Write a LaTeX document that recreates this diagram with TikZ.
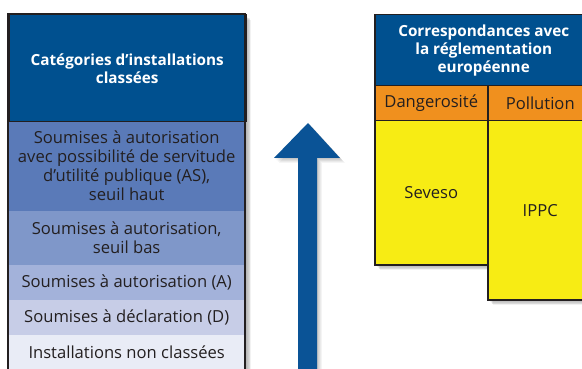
\documentclass[tikz,border=0pt]{standalone}
\usepackage{fontspec}
\setmainfont{Open Sans}
\usetikzlibrary{calc}
\definecolor{hdrblue}{HTML}{00508F}
\definecolor{arrblue}{HTML}{0A5396}
\definecolor{rowA}{HTML}{5A7AB8}
\definecolor{rowB}{HTML}{7F97C9}
\definecolor{rowC}{HTML}{A3B2DA}
\definecolor{rowD}{HTML}{C7CDE7}
\definecolor{rowE}{HTML}{E9ECF6}
\definecolor{orng}{HTML}{F0901E}
\definecolor{yel}{HTML}{F7EC14}
\definecolor{edge}{HTML}{231F20}
\definecolor{txt}{HTML}{231F20}
\tikzset{
  rowcell/.style={anchor=north west, inner sep=0pt, align=center, text=txt,
    font=\fontsize{16.6}{19}\selectfont},
  cell/.style={rowcell, draw=edge, line width=1.5pt},
  hdrcell/.style={cell, fill=hdrblue, text=white, font=\bfseries\fontsize{15.3}{18}\selectfont},
  outline/.style={draw=edge, line width=1.6pt},
}
\newcommand{\softshadow}[4]{%
  \foreach \i in {1,...,7}{\fill[black, opacity=0.05] (#1+\i*0.9,#2+\i*0.9) rectangle (#3+\i*0.9,#4+\i*0.9);}}
\begin{document}
\begin{tikzpicture}[x=1pt,y=-1pt]
\useasboundingbox (0,0) rectangle (582,369);
\clip (0,0) rectangle (582,369);
\fill[white] (0,0) rectangle (582,369);
% shadows
\softshadow{8}{14}{245}{380}
\softshadow{374}{14}{592}{85}
\softshadow{374}{120}{487}{264}
\softshadow{487}{120}{592}{299}
\foreach \i in {1,...,6}{\fill[black, opacity=0.04] ($(308,123)+(\i*0.8,\i*0.8)$) -- ($(340,158)+(\i*0.8,\i*0.8)$) -- ($(317,158)+(\i*0.8,\i*0.8)$) -- ($(317,380)+(\i*0.8,\i*0.8)$) -- ($(298,380)+(\i*0.8,\i*0.8)$) -- ($(298,158)+(\i*0.8,\i*0.8)$) -- ($(274,158)+(\i*0.8,\i*0.8)$) -- cycle;}
% left panel
\node[rowcell, fill=rowA, minimum width=237pt, minimum height=90pt] (r1) at (8,121)
  {Soumises à autorisation\\avec possibilité de servitude\\d’utilité publique (AS),\\seuil haut};
\node[rowcell, fill=rowB, minimum width=237pt, minimum height=54pt] (r2) at (8,211)
  {Soumises à autorisation,\\seuil bas};
\node[rowcell, fill=rowC, minimum width=237pt, minimum height=35pt] (r3) at (8,265)
  {Soumises à autorisation (A)};
\node[rowcell, fill=rowD, minimum width=237pt, minimum height=35pt] (r4) at (8,300)
  {Soumises à déclaration (D)};
\node[rowcell, fill=rowE, minimum width=237pt, minimum height=35pt] (r5) at (8,335)
  {Installations non classées};
\node[hdrcell, minimum width=237pt, minimum height=107pt] (hdrL) at (8,14)
  {Catégories d’installations\\classées};
\draw[outline] (hdrL.north west) rectangle (245,380);
% arrow
\fill[arrblue] (308,123) coordinate (tip) -- (340,158) -- (317,158) -- (317,380) -- (298,380) -- (298,158) -- (274,158) -- cycle;
% right panel
\node[hdrcell, minimum width=218pt, minimum height=71pt] (hdrR) at (374,14)
  {Correspondances avec\\la réglementation\\européenne};
\node[cell, fill=orng, minimum width=113pt, minimum height=35pt] (dang) at (374,85) {Dangerosité};
\node[cell, fill=orng, minimum width=105pt, minimum height=35pt] (poll) at (487,85) {Pollution};
\node[cell, fill=yel, minimum width=113pt, minimum height=144pt] (sev) at (374,120) {Seveso};
\node[cell, fill=yel, minimum width=105pt, minimum height=179pt] (ippc) at (487,120) {IPPC};
\end{tikzpicture}
\end{document}
